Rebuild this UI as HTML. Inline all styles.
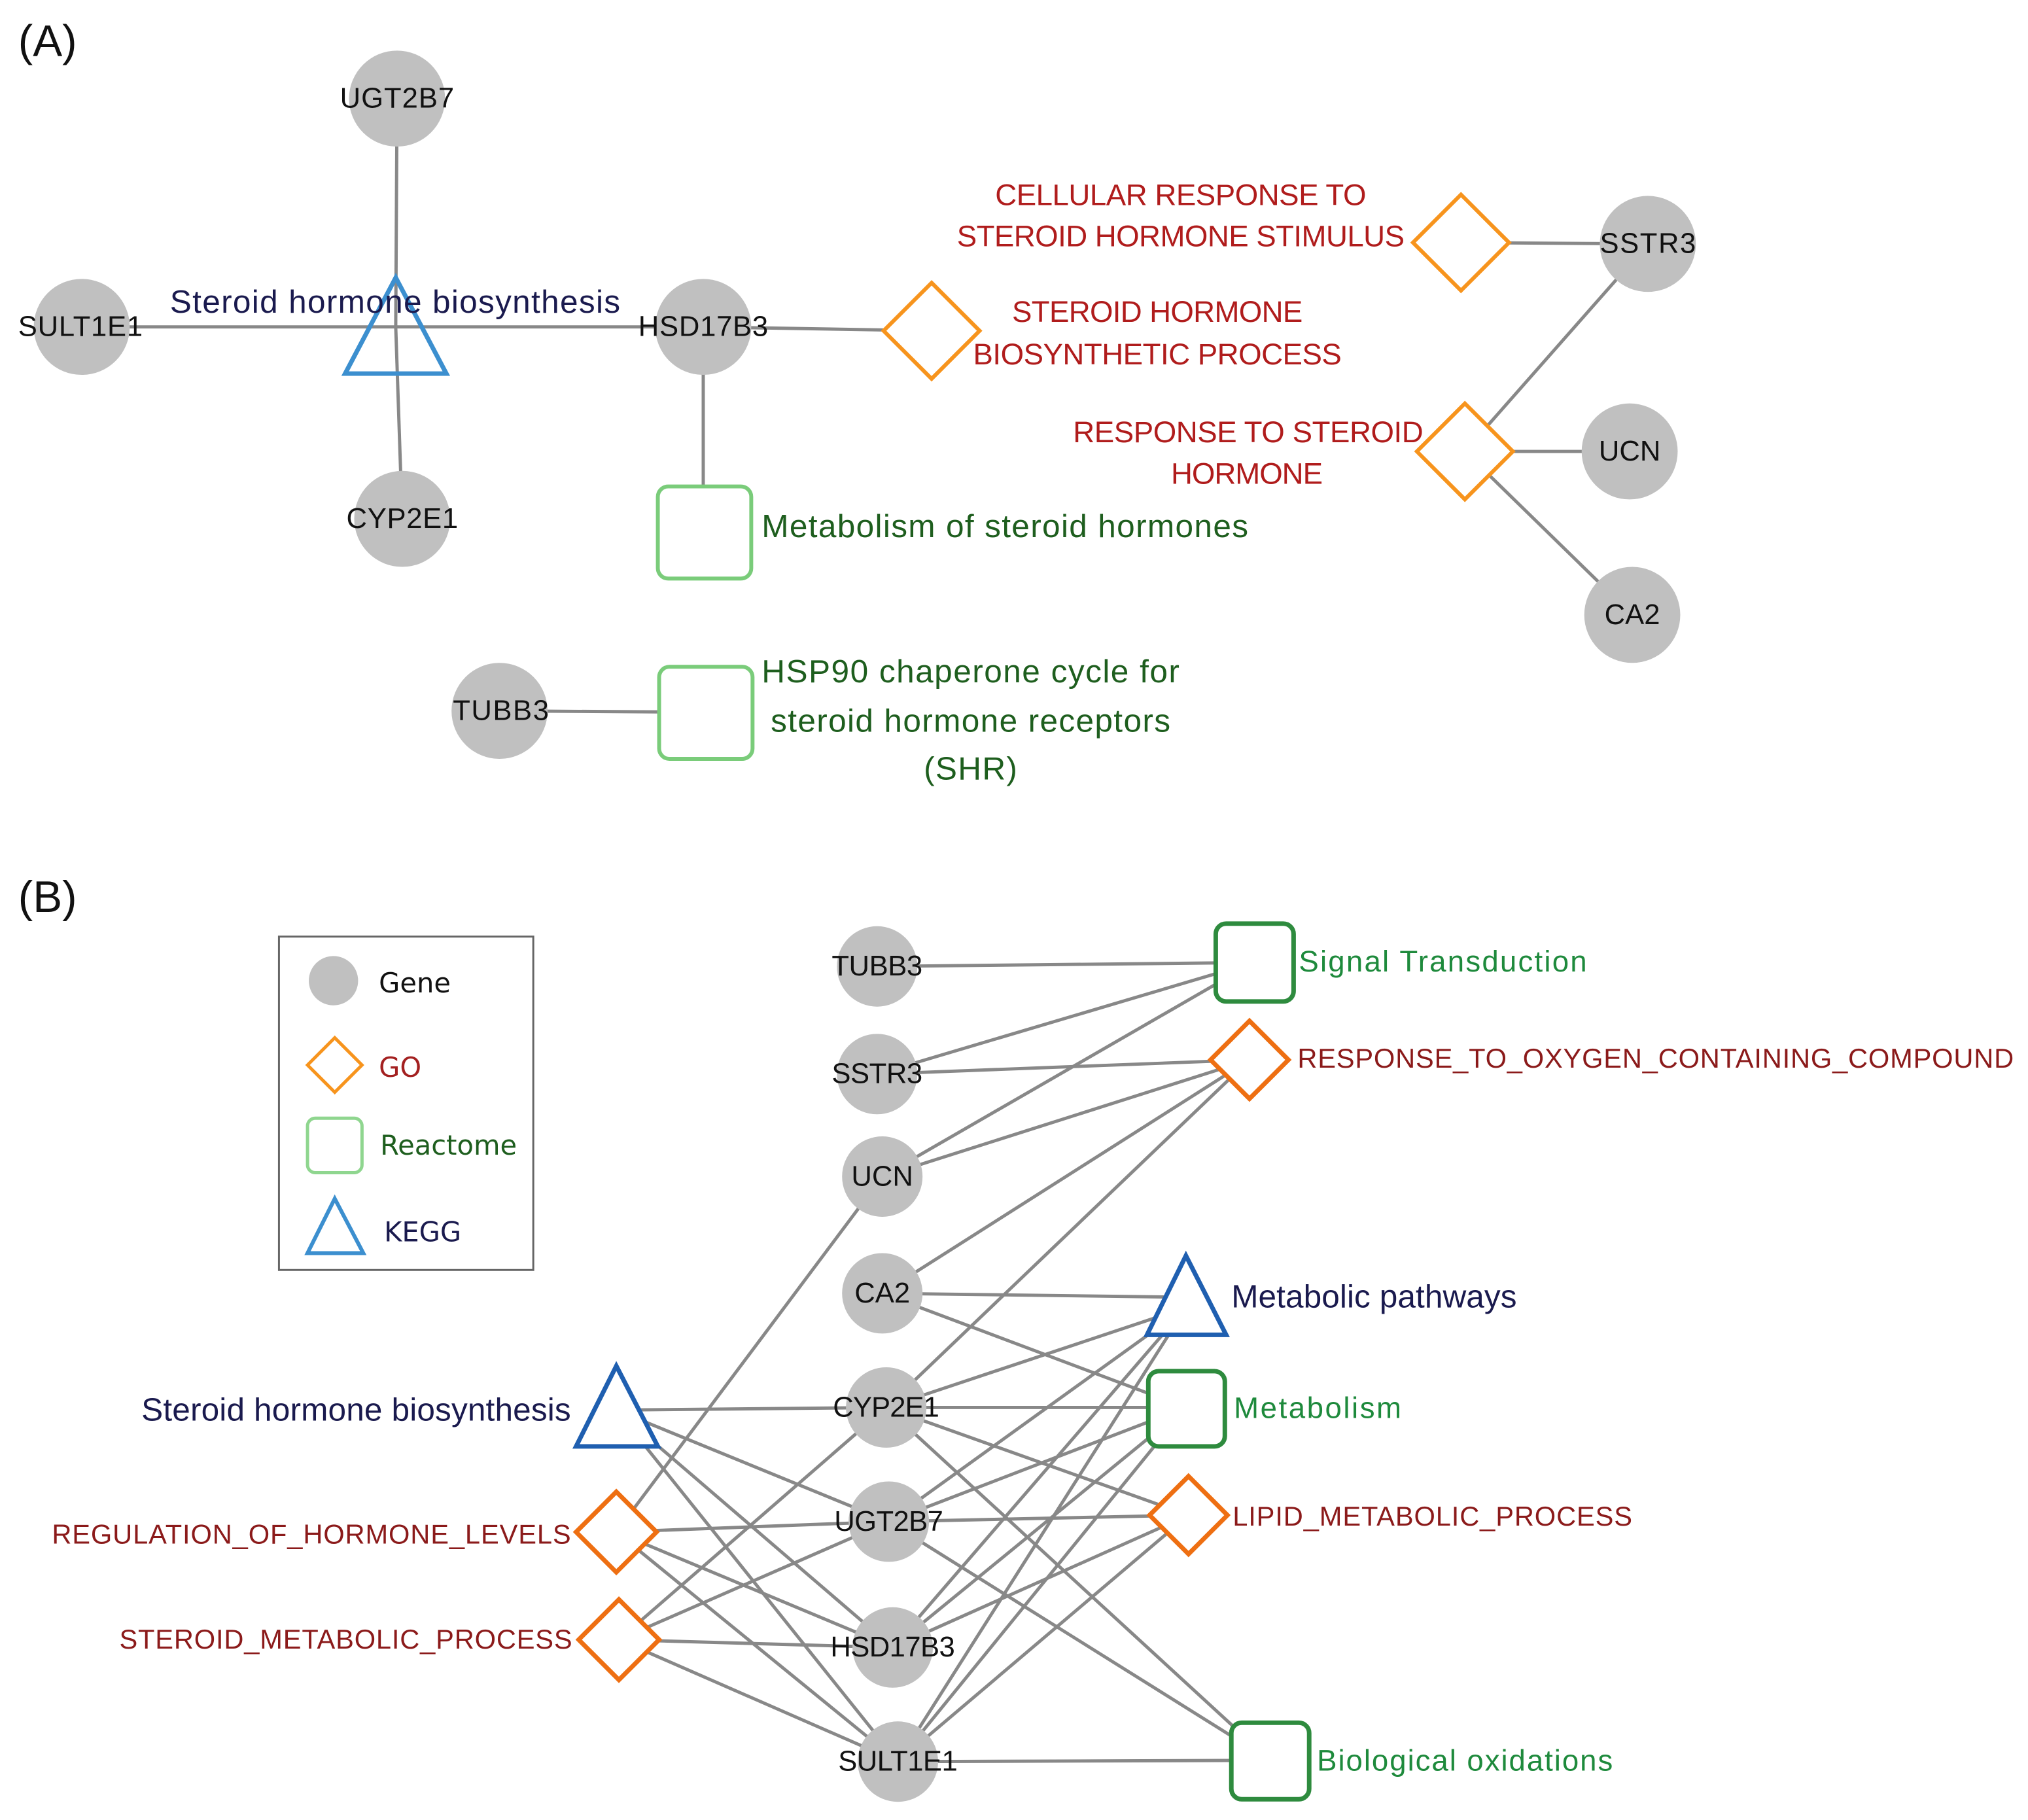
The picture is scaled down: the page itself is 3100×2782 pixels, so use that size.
<!DOCTYPE html>
<html><head><meta charset="utf-8"><style>
html,body{margin:0;padding:0;background:#fff;}
svg{display:block;}
text{font-family:"Liberation Sans",Arial,sans-serif;}
.g{fill:#c0c0c0;}
.gl{font-size:22px;fill:#111;text-anchor:middle;}
.e{stroke:#888;stroke-width:2.5;fill:none;}
.goA{fill:#fff;stroke:#f7941d;stroke-width:3;}
.reA{fill:#fff;stroke:#7acc7a;stroke-width:3;}
.goB{fill:#fff;stroke:#ee6f12;stroke-width:3.5;}
.reB{fill:#fff;stroke:#2e8b3e;stroke-width:3.5;}
.red{fill:#b01c1c;font-size:23px;text-anchor:middle;}
.dred{fill:#8b1a1a;font-size:21px;}
.grn{fill:#1e5e1e;font-size:25px;}
.bgrn{fill:#1e8a3c;font-size:23px;}
.nav{fill:#1a1a4e;font-size:25px;}
.leg{font-family:"DejaVu Sans",sans-serif;font-size:21px;}
</style></head><body>
<svg width="3100" height="2782" viewBox="0 0 1563 1403" preserveAspectRatio="none" xmlns="http://www.w3.org/2000/svg">
<rect width="1563" height="1403" fill="#fff"/>
<text x="14" y="43" font-size="34" fill="#111">(A)</text>
<g class="e">
<line x1="306" y1="76" x2="305" y2="252"/>
<line x1="63" y1="252" x2="305" y2="252"/>
<line x1="305" y1="252" x2="310" y2="400"/>
<line x1="305" y1="252" x2="542" y2="252"/>
<line x1="542" y1="252" x2="718" y2="255"/>
<line x1="542" y1="252" x2="542" y2="410"/>
<line x1="1126" y1="187" x2="1270" y2="188"/>
<line x1="1270" y1="188" x2="1129" y2="348"/>
<line x1="1129" y1="348" x2="1256" y2="348"/>
<line x1="1129" y1="348" x2="1258" y2="474"/>
<line x1="385" y1="548" x2="544" y2="549"/>
</g>
<circle class="g" cx="306" cy="76" r="37"/>
<circle class="g" cx="63" cy="252" r="37"/>
<circle class="g" cx="310" cy="400" r="37"/>
<circle class="g" cx="542" cy="252" r="37"/>
<circle class="g" cx="1270" cy="188" r="37"/>
<circle class="g" cx="1256" cy="348" r="37"/>
<circle class="g" cx="1258" cy="474" r="37"/>
<circle class="g" cx="385" cy="548" r="37"/>
<polygon points="305,214 344,288 266,288" fill="none" stroke="#3c8fcf" stroke-width="3.5"/>
<polygon class="goA" points="718,218 755,255 718,292 681,255"/>
<polygon class="goA" points="1126,150 1163,187 1126,224 1089,187"/>
<polygon class="goA" points="1129,311 1166,348 1129,385 1092,348"/>
<rect class="reA" x="507" y="375" width="72" height="71" rx="8"/>
<rect class="reA" x="508" y="514" width="72" height="71" rx="8"/>
<text class="gl" x="306" y="83" textLength="88">UGT2B7</text>
<text class="gl" x="62" y="259" textLength="96">SULT1E1</text>
<text class="gl" x="310" y="407" textLength="86">CYP2E1</text>
<text class="gl" x="542" y="259" textLength="100">HSD17B3</text>
<text class="gl" x="1270" y="195" textLength="74">SSTR3</text>
<text class="gl" x="1256" y="355">UCN</text>
<text class="gl" x="1258" y="481">CA2</text>
<text class="gl" x="386" y="555" textLength="74">TUBB3</text>
<text class="nav" x="131" y="241" textLength="347">Steroid hormone biosynthesis</text>
<text class="red" x="910" y="158" textLength="286">CELLULAR RESPONSE TO</text>
<text class="red" x="910" y="190" textLength="345">STEROID HORMONE STIMULUS</text>
<text class="red" x="892" y="248" textLength="224">STEROID HORMONE</text>
<text class="red" x="892" y="281" textLength="284">BIOSYNTHETIC PROCESS</text>
<text class="red" x="962" y="341" textLength="270">RESPONSE TO STEROID</text>
<text class="red" x="961" y="373" textLength="117">HORMONE</text>
<text class="grn" x="587" y="414" textLength="375">Metabolism of steroid hormones</text>
<text class="grn" x="587" y="526" textLength="322">HSP90 chaperone cycle for</text>
<text class="grn" x="594" y="564" textLength="308">steroid hormone receptors</text>
<text class="grn" x="712" y="601" textLength="72">(SHR)</text>

<text x="14" y="703" font-size="34" fill="#111">(B)</text>
<rect x="215" y="722" width="196" height="257" fill="#fff" stroke="#666" stroke-width="1.5"/>
<circle class="g" cx="257" cy="756" r="19"/>
<text class="leg" x="292" y="765" fill="#111">Gene</text>
<polygon points="258,800 279,821 258,842 237,821" fill="none" stroke="#f7941d" stroke-width="2.5"/>
<text class="leg" x="292" y="830" fill="#a32020">GO</text>
<rect x="237" y="862" width="42" height="42" rx="6" fill="none" stroke="#8fd68f" stroke-width="2.5"/>
<text class="leg" x="293" y="890" fill="#1e5e1e">Reactome</text>
<polygon points="258,924 280,966 237,966" fill="none" stroke="#3c8fcf" stroke-width="3"/>
<text class="leg" x="296" y="957" fill="#1a1a4e">KEGG</text>

<g class="e">
<line x1="676" y1="745" x2="966" y2="742"/>
<line x1="676" y1="828" x2="966" y2="742"/>
<line x1="676" y1="828" x2="963" y2="817"/>
<line x1="680" y1="907" x2="966" y2="742"/>
<line x1="680" y1="907" x2="963" y2="817"/>
<line x1="680" y1="907" x2="475" y2="1181"/>
<line x1="680" y1="997" x2="963" y2="817"/>
<line x1="680" y1="997" x2="914" y2="1000"/>
<line x1="680" y1="997" x2="914" y2="1085"/>
<line x1="683" y1="1085" x2="963" y2="817"/>
<line x1="683" y1="1085" x2="914" y2="1008"/>
<line x1="683" y1="1085" x2="914" y2="1085"/>
<line x1="683" y1="1085" x2="916" y2="1168"/>
<line x1="683" y1="1085" x2="979" y2="1357"/>
<line x1="683" y1="1085" x2="475" y2="1087"/>
<line x1="683" y1="1085" x2="477" y2="1264"/>
<line x1="685" y1="1173" x2="475" y2="1087"/>
<line x1="685" y1="1173" x2="475" y2="1181"/>
<line x1="685" y1="1173" x2="477" y2="1264"/>
<line x1="685" y1="1173" x2="914" y2="1008"/>
<line x1="685" y1="1173" x2="914" y2="1085"/>
<line x1="685" y1="1173" x2="916" y2="1168"/>
<line x1="685" y1="1173" x2="979" y2="1357"/>
<line x1="688" y1="1270" x2="475" y2="1087"/>
<line x1="688" y1="1270" x2="475" y2="1181"/>
<line x1="688" y1="1270" x2="477" y2="1264"/>
<line x1="688" y1="1270" x2="914" y2="1008"/>
<line x1="688" y1="1270" x2="914" y2="1085"/>
<line x1="688" y1="1270" x2="916" y2="1168"/>
<line x1="692" y1="1358" x2="475" y2="1087"/>
<line x1="692" y1="1358" x2="475" y2="1181"/>
<line x1="692" y1="1358" x2="477" y2="1264"/>
<line x1="692" y1="1358" x2="914" y2="1008"/>
<line x1="692" y1="1358" x2="914" y2="1085"/>
<line x1="692" y1="1358" x2="916" y2="1168"/>
<line x1="692" y1="1358" x2="979" y2="1357"/>
</g>
<circle class="g" cx="676" cy="745" r="31"/>
<circle class="g" cx="676" cy="828" r="31"/>
<circle class="g" cx="680" cy="907" r="31"/>
<circle class="g" cx="680" cy="997" r="31"/>
<circle class="g" cx="683" cy="1085" r="31"/>
<circle class="g" cx="685" cy="1173" r="31"/>
<circle class="g" cx="688" cy="1270" r="31"/>
<circle class="g" cx="692" cy="1358" r="31"/>
<text class="gl" x="676" y="752" textLength="70">TUBB3</text>
<text class="gl" x="676" y="835" textLength="70">SSTR3</text>
<text class="gl" x="680" y="914">UCN</text>
<text class="gl" x="680" y="1004">CA2</text>
<text class="gl" x="683" y="1092" textLength="82">CYP2E1</text>
<text class="gl" x="685" y="1180" textLength="84">UGT2B7</text>
<text class="gl" x="688" y="1277" textLength="96">HSD17B3</text>
<text class="gl" x="692" y="1365" textLength="92">SULT1E1</text>

<rect class="reB" x="937" y="712" width="60" height="60" rx="8"/>
<polygon class="goB" points="963,787 993,817 963,847 933,817"/>
<polygon points="914,968 945,1029 884,1029" fill="#fff" stroke="#1f5fb0" stroke-width="3.5"/>
<rect class="reB" x="885" y="1057" width="59" height="58" rx="8"/>
<polygon class="goB" points="916,1138 946,1168 916,1198 886,1168"/>
<rect class="reB" x="949" y="1328" width="60" height="59" rx="8"/>
<polygon points="475,1053 507,1115 444,1115" fill="#fff" stroke="#1f5fb0" stroke-width="3.5"/>
<polygon class="goB" points="475,1150 506,1181 475,1212 444,1181"/>
<polygon class="goB" points="477,1233 508,1264 477,1295 446,1264"/>

<text class="bgrn" x="1001" y="749" textLength="222">Signal Transduction</text>
<text class="dred" x="1000" y="823" textLength="552">RESPONSE_TO_OXYGEN_CONTAINING_COMPOUND</text>
<text class="nav" x="949" y="1008" font-size="23" textLength="220">Metabolic pathways</text>
<text class="bgrn" x="951" y="1093" textLength="129">Metabolism</text>
<text class="dred" x="950" y="1176" textLength="308">LIPID_METABOLIC_PROCESS</text>
<text class="bgrn" x="1015" y="1365" textLength="228">Biological oxidations</text>
<text class="nav" x="109" y="1095" font-size="23" textLength="331">Steroid hormone biosynthesis</text>
<text class="dred" x="40" y="1190" textLength="400">REGULATION_OF_HORMONE_LEVELS</text>
<text class="dred" x="92" y="1271" textLength="349">STEROID_METABOLIC_PROCESS</text>
</svg>
</body></html>
